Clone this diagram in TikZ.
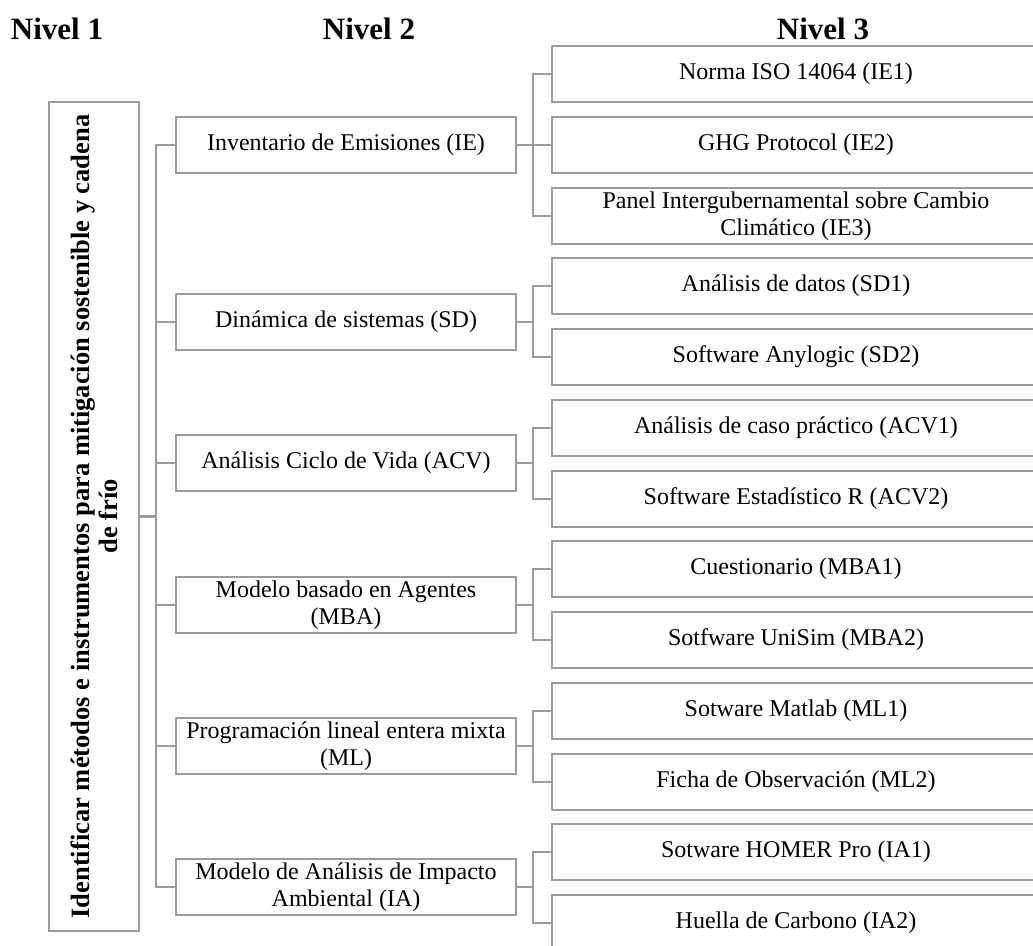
\documentclass[tikz,border=0pt]{standalone}
\usepackage{fontspec}
\setmainfont{Liberation Serif}
\definecolor{ln}{RGB}{155,155,155}
\tikzset{
  bx/.style={draw=ln, line width=2.5pt, inner sep=2pt, align=center, font=\fontsize{24}{27.5}\selectfont},
  lone/.style={draw=ln, line width=2.5pt, inner sep=0pt, align=center, font=\fontsize{26.5}{28}\selectfont\bfseries},
  ltwo/.style={bx, minimum width=340pt, minimum height=56pt},
  lthree/.style={bx, minimum width=488pt, minimum height=56pt},
  conn/.style={draw=ln, line width=2.5pt},
  ttl/.style={font=\fontsize{31}{36}\selectfont\bfseries, anchor=base, inner sep=0pt}
}
\begin{document}
\begin{tikzpicture}[x=1pt,y=-1pt]
\useasboundingbox (0,0) rectangle (1033,945);
\clip (0,0) rectangle (1033,945);

% titles
\node[ttl] (t1) at (57,39) {Nivel 1};
\node[ttl] (t2) at (369,39) {Nivel 2};
\node[ttl] (t3) at (823,39) {Nivel 3};

% level 1
\node[lone, rotate=90, minimum width=829pt, minimum height=90pt] (n1) at (94,516.5)
  {Identificar métodos e instrumentos para mitigación sostenible y cadena\\de frío};

% level 3
\node[lthree] (c1) at (796,74) {Norma ISO 14064 (IE1)};
\node[lthree] (c2) at (796,145) {GHG Protocol (IE2)};
\node[lthree] (c3) at (796,216) {Panel Intergubernamental sobre Cambio\\Climático (IE3)};
\node[lthree] (c4) at (796,286) {Análisis de datos (SD1)};
\node[lthree] (c5) at (796,357) {Software Anylogic (SD2)};
\node[lthree] (c6) at (796,428) {Análisis de caso práctico (ACV1)};
\node[lthree] (c7) at (796,499) {Software Estadístico R (ACV2)};
\node[lthree] (c8) at (796,569) {Cuestionario (MBA1)};
\node[lthree] (c9) at (796,640) {Sotfware UniSim (MBA2)};
\node[lthree] (c10) at (796,711) {Sotware Matlab (ML1)};
\node[lthree] (c11) at (796,782) {Ficha de Observación (ML2)};
\node[lthree] (c12) at (796,852) {Sotware HOMER Pro (IA1)};
\node[lthree] (c13) at (796,923) {Huella de Carbono (IA2)};

% level 2
\node[ltwo] (ie) at (346,145) {Inventario de Emisiones (IE)};
\node[ltwo] (sd) at (346,322) {Dinámica de sistemas (SD)};
\node[ltwo] (acv) at (346,463) {Análisis Ciclo de Vida (ACV)};
\node[ltwo] (mba) at (346,605) {Modelo basado en Agentes\\(MBA)};
\node[ltwo] (ml) at (346,746) {Programación lineal entera mixta\\(ML)};
\node[ltwo] (ia) at (346,887) {Modelo de Análisis de Impacto\\Ambiental (IA)};

% trunk
\draw[conn] (ie.west) -- ++(-19,0) coordinate (tt) |- (ia.west);
\foreach \n in {sd,acv,mba,ml} \draw[conn] (\n.west) -- (\n.west -| tt);
\draw[conn] (n1.south) -- (n1.south -| tt);

% brackets
\draw[conn] (c1.west) -- ++(-18,0) coordinate (b1) |- (c3.west);
\draw[conn] (c2.west) -- (c2.west -| b1);
\draw[conn] (ie.east) -- (ie.east -| b1);

\draw[conn] (c4.west) -- ++(-18,0) |- (c5.west);
\draw[conn] (sd.east) -- (sd.east -| b1);
\draw[conn] (c6.west) -- ++(-18,0) |- (c7.west);
\draw[conn] (acv.east) -- (acv.east -| b1);
\draw[conn] (c8.west) -- ++(-18,0) |- (c9.west);
\draw[conn] (mba.east) -- (mba.east -| b1);
\draw[conn] (c10.west) -- ++(-18,0) |- (c11.west);
\draw[conn] (ml.east) -- (ml.east -| b1);
\draw[conn] (c12.west) -- ++(-18,0) |- (c13.west);
\draw[conn] (ia.east) -- (ia.east -| b1);
\end{tikzpicture}
\end{document}
